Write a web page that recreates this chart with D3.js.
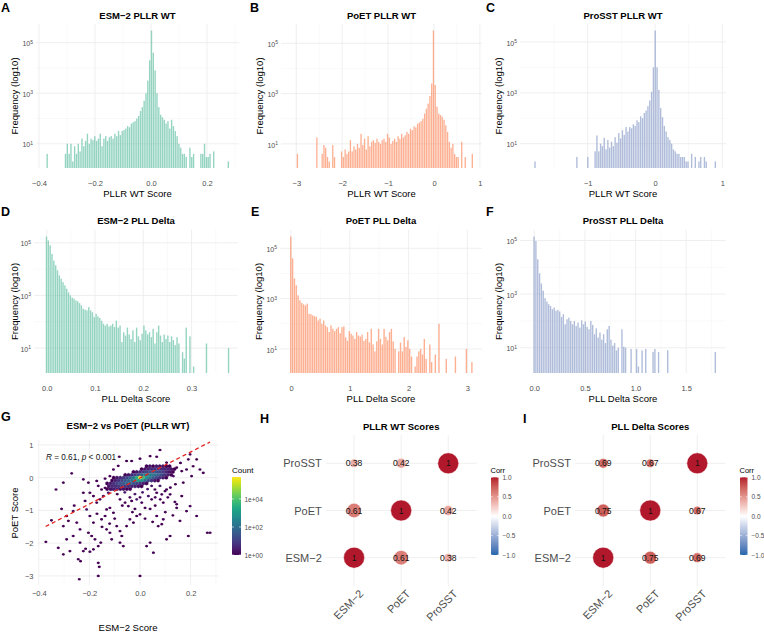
<!DOCTYPE html>
<html>
<head>
<meta charset="utf-8">
<script src="https://cdn.jsdelivr.net/npm/d3@7"></script>
<style>
  body { margin: 0; background: #fff; }
  svg { font-family: "Liberation Sans", Arial, sans-serif; }
</style>
</head>
<body>
<div id="fig"></div>
<script>
// ---------- histogram data (100 bins each, counts) ----------
const ESM_PLLR_RANGE = [-0.370, 0.277];
const ESM_PLLR_COUNTS = [4,0,0,0,0,0,0,0,0,0,
  4,10,4,10,2,8,4,10,5,16, 8,13,25,10,16,14,20,13,16,25,
  8,16,20,13,18,20,16,25,20,32, 22,32,35,40,50,45,63,71,79,100,
  126,200,282,501,1000,3160,20000,302000,39800,7940, 1000,282,141,112,89,63,79,40,89,50,
  32,20,10,7,4,4,3,0,7,3, 4,0,0,0,4,4,10,3,3,4, 0,5,0,0,0,0,0,0,0,2];

const POET_PLLR_RANGE = [-2.97, 0.84];
const POET_PLLR_COUNTS = [4,0,0,0,0,0,0,0,0,0,
  0,18,0,0,4,9,7,3,2,0, 9,3,0,0,0,5,3,6,4,5,
  14,5,8,6,10,7,25,9,16,6, 20,8,12,14,11,16,12,10,14,16,
  12,25,18,10,13,16,12,20,16,25, 18,22,30,25,40,35,50,45,63,70,
  80,100,160,250,400,800,2500,320000,2200,300, 160,140,120,90,55,30,12,7,10,4,
  3,3,0,12,0,3,0,0,0,4];

const PROSST_PLLR_RANGE = [-1.78, 0.90];
const PROSST_PLLR_COUNTS = [2,0,0,0,0,0,0,0,0,0,
  0,0,0,0,0,0,0,0,0,0, 0,0,0,3,0,0,0,0,0,3,
  0,0,0,5,21,5,10,8,17,6, 14,7,12,8,18,11,26,16,34,22,
  45,30,45,40,58,50,83,70,120,100, 160,200,300,500,1100,10000,280000,10000,1300,250,
  110,50,30,18,14,10,6,5,4,4, 3,3,3,2,2,0,4,0,3,0,
  2,3,0,3,2,0,0,0,0,2];

const ESM_DELTA_RANGE = [0, 0.377];
const ESM_DELTA_COUNTS = [174000,123000,80000,38000,21000,14000,9000,5800,4300,3200,
  2400,1800,1300,1000,820,750,640,600,510,420, 310,290,270,360,270,230,150,200,160,140,
  110,84,72,84,66,72,84,63,110,60, 72,17,40,30,60,33,22,47,17,60,
  28,20,35,72,47,33,40,26,54,15, 40,72,30,17,33,22,30,17,28,20,
  13,26,15,0,7,4,60,0,28,0, 2,0,0,0,0,0,0,15,0,0,
  0,0,0,0,0,0,0,0,0,10];

const POET_DELTA_RANGE = [0, 3.08];
const POET_DELTA_COUNTS = [295000,40000,6300,3400,1350,860,670,590,540,630,
  250,240,215,200,190,135,160,100,135,86, 73,47,86,63,51,63,73,42,73,78,
  29,21,51,40,34,25,47,34,31,37, 21,25,47,18,63,15,8,20,63,25,
  15,63,30,22,47,63,20,10,0,8, 18,8,30,12,22,10,5,0,2,5,
  8,10,6,25,4,0,15,3,0,6, 0,100,0,0,0,4,0,0,0,0,
  5,0,0,0,0,0,10,0,0,3];

const PROSST_DELTA_RANGE = [0, 1.79];
const PROSST_DELTA_COUNTS = [141000,95000,20000,6000,2500,1340,710,530,420,360,
  275,316,240,260,225,141,178,75,115,133, 100,75,100,65,87,56,105,75,95,60,
  49,100,71,32,53,24,37,20,32,15, 49,65,20,12,15,8,10,0,49,11,
  10,0,0,9,0,0,9,2,0,8, 0,9,0,0,0,7,9,0,7,0,
  0,0,0,8,0,0,0,0,0,0, 0,0,0,0,0,0,0,0,0,0,
  0,0,0,0,0,0,0,0,0,7];

const PLLR_ESM_TICKS = [-0.4, -0.2, 0, 0.2];
const PLLR_POET_TICKS = [-3, -2, -1, 0, 1];
const PLLR_PROSST_TICKS = [-1, 0, 1];
const DELTA_ESM_TICKS = [0, 0.1, 0.2, 0.3];
const DELTA_POET_TICKS = [0, 1, 2, 3];
const DELTA_PROSST_TICKS = [0, 0.5, 1, 1.5];
const LOG_TICKS = [10, 1000, 100000];

// ---------- hexbin scatter (ESM-2 vs PoET) ----------
// sparse cells: [esm, poet, count]
const SPARSE_HEX = [
  [-0.082,0.64,1],[0.079,0.845,1],[-0.053,0.51,1],[-0.033,0.51,1],[0.0,0.58,1],[0.066,0.64,1],
  [-0.27,0.13,1],[-0.303,-0.15,1],[-0.332,-0.36,1],[-0.224,-0.05,1],[-0.204,-0.15,1],[-0.171,-0.10,1],
  [-0.138,-0.03,1],[0.198,0.71,1],[0.224,0.56,1],[0.237,0.25,1],[0.191,0.56,1],[0.204,0.05,1],
  [0.145,0.31,1],[0.165,0.20,1],[0.132,0.05,2],[0.171,-0.15,1],[0.277,-1.68,1],[0.266,-1.68,1],
  [-0.372,-1.96,1],[-0.323,-2.14,1],[-0.303,-2.34,1],[-0.290,-1.17,1],[-0.283,-1.32,1],[-0.264,-1.02,1],
  [-0.250,-1.37,1],[-0.237,-1.58,1],[-0.224,-0.46,1],[-0.217,-0.71,1],[-0.211,-0.97,2],[-0.198,-1.17,1],
  [-0.184,-1.37,1],[-0.237,-1.98,1],[-0.224,-2.24,1],[-0.215,-2.17,1],[-0.277,-2.24,1],[-0.244,-2.49,1],
  [-0.235,-2.55,1],[-0.191,-1.78,1],[-0.178,-1.88,1],[-0.165,-2.09,1],[-0.155,-1.98,1],[-0.184,-2.19,1],
  [-0.198,-2.26,1],[-0.165,-2.60,1],[-0.161,-2.72,1],[-0.165,-3.0,1],[-0.240,-3.10,1],[0.0,-3.0,1],
  [0.053,-2.29,1],[0.026,-2.09,1],[0.040,-1.98,1],[0.105,-1.88,1],[0.119,-1.78,1],[0.191,-1.78,1],
  [-0.092,-1.48,1],[-0.079,-1.63,1],[-0.072,-1.78,1],[-0.053,-1.48,1],[-0.040,-1.27,1],[-0.026,-1.37,1],
  [-0.013,-1.17,1],[0.0,-1.12,1],[0.066,-1.17,1],[0.092,-1.27,1],[0.072,-1.48,1],[0.086,-1.42,1],
  [0.145,-0.92,1],[0.184,-1.02,1],[0.198,-0.87,1],[0.145,-0.81,1],[0.138,-0.74,1],[-0.105,-1.07,1],
  [-0.119,-0.92,1],[-0.132,-0.97,1],[-0.152,-1.27,1],[-0.138,-1.17,1],[-0.171,-0.76,1],[-0.158,-0.66,1],
  [-0.145,-0.56,2],[-0.125,-0.46,2],[-0.112,-0.36,2],[-0.099,-0.25,2],[-0.079,-0.66,1],[-0.059,-0.76,1],
  [-0.046,-0.87,1],[-0.033,-0.71,1],[-0.013,-0.66,2],[0.007,-0.76,1],[0.020,-0.92,1],[0.033,-0.56,2],
  [0.046,-0.66,1],[0.066,-0.46,1],[0.086,-0.51,1],[0.099,-0.41,1],[0.092,-0.76,1],[-0.132,-1.58,1],
  [-0.119,-1.68,1],[-0.112,-1.88,1],[-0.079,-1.98,1],[-0.066,-2.09,1],[-0.152,-0.36,1],[-0.138,-0.31,1],
  [-0.165,-0.25,1],[-0.184,-0.56,1],[-0.198,-0.46,1],[0.046,-0.25,2],[0.059,-0.36,1],[0.079,-0.25,2],
  [0.105,-0.36,1],[0.119,-0.51,1],[0.224,-1.17,1],[0.184,0.25,1],[0.105,0.46,1],[0.040,0.66,1],
  [-0.086,0.36,1],[-0.290,-1.88,1],[-0.264,-1.78,1],[-0.204,-1.68,1],[-0.303,-1.48,1],[-0.105,0.25,1],
  [-0.119,0.05,1],[0.165,-0.56,1],[0.158,-1.32,1],[0.250,0.15,1],
  [-0.06,-0.45,2],[-0.02,-0.5,2],[0.01,-0.45,2],[0.03,-0.35,2],[-0.04,-0.6,1],[0.0,-0.6,1],
  [0.06,-0.6,1],[0.08,-0.66,1],[-0.09,-0.5,1],[-0.07,-0.85,1],[-0.02,-0.95,1],[0.04,-0.95,1],
  [0.06,-0.85,1],[0.11,-0.6,1],[0.12,-0.3,1],[0.14,-0.2,1],[-0.03,-1.05,1],[0.02,-1.25,1],
  [0.05,-1.35,1],[-0.1,-1.25,1],[-0.12,-1.4,1],[-0.15,-1.5,1],[-0.17,-1.1,1],[-0.26,-0.85,1],
  [-0.31,-0.95,1],[-0.35,-1.3,1],[0.1,-1.05,1],[0.13,-1.15,1],[0.16,0.45,1],[0.21,0.35,1]
];
// dense core: rows of PoET, columns of ESM-2
const CORE_ESM = [-0.13,-0.117,-0.104,-0.091,-0.078,-0.065,-0.052,-0.039,-0.026,-0.013,0,
  0.013,0.026,0.039,0.052,0.065,0.078,0.091,0.104,0.117,0.13];
const CORE_POET = [0.35, 0.2625, 0.175, 0.0875, 0, -0.0875, -0.175, -0.2625, -0.35];
const CORE_COUNTS = [
  [0,0,0,0,0,0,0,0,0,0,0,0,1,2,1,3,2,2,1,1,0],
  [0,0,0,0,0,0,0,0,0,0,1,2,3,5,6,8,5,4,3,2,1],
  [0,0,0,0,0,0,0,0,1,2,4,8,15,25,30,25,15,8,4,2,1],
  [0,0,0,0,0,1,2,4,8,20,60,150,300,200,100,50,20,8,3,1,0],
  [0,0,1,2,4,8,15,40,150,3000,370000,8000,600,150,40,15,6,3,1,0,0],
  [0,1,3,6,12,25,60,150,400,1500,800,100,20,6,2,1,0,0,0,0,0],
  [1,3,6,12,25,40,60,50,30,15,6,3,1,0,0,0,0,0,0,0,0],
  [2,4,6,8,10,8,6,4,3,2,1,0,0,0,0,0,0,0,0,0,0],
  [1,2,3,3,2,2,1,1,0,0,0,0,0,0,0,0,0,0,0,0,0]
];
const LM_ESM = [-0.373, 0.277];
const LM_POET = [-1.49, 1.09];
const SCATTER_X_TICKS = [-0.4, -0.2, 0, 0.2];
const SCATTER_Y_TICKS = [-3, -2, -1, 0, 1];
const COUNT_TICKS = [1, 100, 10000];

// ---------- correlation matrices ----------
const MODELS = ["ESM−2", "PoET", "ProSST"];
const PLLR_CORR = [[1, 0.61, 0.38], [0.61, 1, 0.42], [0.38, 0.42, 1]];
const DELTA_CORR = [[1, 0.75, 0.69], [0.75, 1, 0.67], [0.69, 0.67, 1]];
const CORR_TICKS = [-1, -0.5, 0, 0.5, 1];

// ---------- frame ----------
const WIDTH = 764, HEIGHT = 634;
const GRID = "#EBEBEB", GRID_MINOR = "#F3F3F3", TICK_TEXT = "#4D4D4D";

const svg = d3.select("#fig").append("svg")
  .attr("width", WIDTH).attr("height", HEIGHT);
svg.append("rect").attr("width", WIDTH).attr("height", HEIGHT).attr("fill", "#fff");

function minorOf(ticks, dom) {
  const step = ticks[1] - ticks[0];
  const out = [];
  for (let t = ticks[0] - step / 2; t <= ticks[ticks.length - 1] + step / 2 + 1e-9; t += step) {
    if (t >= dom[0] && t <= dom[1]) out.push(t);
  }
  return out;
}

function vLines(g, x, vals, y0, y1, color, w) {
  g.append("g").selectAll("line").data(vals).join("line")
    .attr("x1", d => x(d)).attr("x2", d => x(d)).attr("y1", y0).attr("y2", y1)
    .attr("stroke", color).attr("stroke-width", w);
}
function hLines(g, y, vals, x0, x1, color, w) {
  g.append("g").selectAll("line").data(vals).join("line")
    .attr("y1", d => y(d)).attr("y2", d => y(d)).attr("x1", x0).attr("x2", x1)
    .attr("stroke", color).attr("stroke-width", w);
}

// tick labels drawn with d3 axes, no tick marks, no domain line
function labelAxis(g, axis, tx, ty, size) {
  const a = g.append("g").attr("transform", `translate(${tx},${ty})`).call(axis);
  a.select(".domain").remove();
  a.attr("font-size", null).attr("font-family", null);
  a.selectAll("text").attr("fill", TICK_TEXT).style("font-size", size + "px");
  return a;
}

function text(g, x, y, str, opts = {}) {
  return g.append("text").attr("x", x).attr("y", y)
    .attr("text-anchor", opts.anchor || "middle")
    .style("font-size", (opts.size || 9.5) + "px")
    .style("font-weight", opts.bold ? "bold" : null)
    .attr("fill", opts.fill || "#000")
    .text(str);
}

function yTitle(g, x, yc, str) {
  g.append("text").attr("transform", `translate(${x},${yc}) rotate(-90)`)
    .attr("text-anchor", "middle").attr("dy", "0.35em")
    .style("font-size", "9.5px").text(str);
}

// ---------- histograms ----------
const ROWS = [
  {py: [24, 168], title: 18.5, tick: 183, xlab: 196.5},
  {py: [230, 373], title: 223.5, tick: 388.3, xlab: 401.8}
];

const HISTS = [
  {letter: "A", lx: 1, ly: 11.5, title: "ESM−2 PLLR WT", xlab: "PLLR WT Score", counts: ESM_PLLR_COUNTS,
   range: ESM_PLLR_RANGE, ticks: PLLR_ESM_TICKS, fmt: ".1f", color: "#66C2A5", px: [36, 239], dom: [-0.4107, 0.3143], row: 0, ytx: 15},
  {letter: "B", lx: 250, ly: 11.5, title: "PoET PLLR WT", xlab: "PLLR WT Score", counts: POET_PLLR_COUNTS,
   range: POET_PLLR_RANGE, ticks: PLLR_POET_TICKS, fmt: "d", color: "#FC8D62", px: [281, 482], dom: [-3.333, 1.046], row: 0, ytx: 260},
  {letter: "C", lx: 486, ly: 11.5, title: "ProSST PLLR WT", xlab: "PLLR WT Score", counts: PROSST_PLLR_COUNTS,
   range: PROSST_PLLR_RANGE, ticks: PLLR_PROSST_TICKS, fmt: "d", color: "#8DA0CB", px: [520, 726], dom: [-2.006, 1.055], row: 0, ytx: 499},
  {letter: "D", lx: 1, ly: 215.5, title: "ESM−2 PLL Delta", xlab: "PLL Delta Score", counts: ESM_DELTA_COUNTS,
   range: ESM_DELTA_RANGE, ticks: DELTA_ESM_TICKS, fmt: ".1f", color: "#66C2A5", px: [34, 238], dom: [-0.0263, 0.3961], row: 1, ytx: 15},
  {letter: "E", lx: 251, ly: 215.5, title: "PoET PLL Delta", xlab: "PLL Delta Score", counts: POET_DELTA_COUNTS,
   range: POET_DELTA_RANGE, ticks: DELTA_POET_TICKS, fmt: "d", color: "#FC8D62", px: [280, 482], dom: [-0.187, 3.248], row: 1, ytx: 259},
  {letter: "F", lx: 486, ly: 215.5, title: "ProSST PLL Delta", xlab: "PLL Delta Score", counts: PROSST_DELTA_COUNTS,
   range: PROSST_DELTA_RANGE, ticks: DELTA_PROSST_TICKS, fmt: ".1f", color: "#8DA0CB", px: [520, 726], dom: [-0.1412, 1.8934], row: 1, ytx: 499}
];

HISTS.forEach(p => {
  const row = ROWS[p.row];
  const g = svg.append("g");
  const x = d3.scaleLinear().domain(p.dom).range(p.px);
  const nz = p.counts.filter(c => c > 0);
  const lmin = Math.log10(d3.min(nz)), lmax = Math.log10(d3.max(nz));
  const pad = 0.05 * (lmax - lmin);
  const y = d3.scaleLog().domain([10 ** (lmin - pad), 10 ** (lmax + pad)]).range([row.py[1], row.py[0]]);
  const yDom = y.domain();

  // grid
  vLines(g, x, minorOf(p.ticks, p.dom), row.py[0], row.py[1], GRID_MINOR, 0.5);
  hLines(g, y, [1, 100, 10000, 1e6].filter(v => v >= yDom[0] && v <= yDom[1]), p.px[0], p.px[1], GRID_MINOR, 0.5);
  vLines(g, x, p.ticks, row.py[0], row.py[1], GRID, 0.8);
  hLines(g, y, LOG_TICKS, p.px[0], p.px[1], GRID, 0.8);

  // bars
  const w = (p.range[1] - p.range[0]) / (p.counts.length - 1);
  const bins = p.counts.map((c, i) => ({c, mid: p.range[0] + i * w})).filter(d => d.c > 0);
  g.append("g").selectAll("rect").data(bins).join("rect")
    .attr("x", d => x(d.mid - w / 2))
    .attr("width", d => Math.max(0.4, x(d.mid + w / 2) - x(d.mid - w / 2) - 0.45))
    .attr("y", d => y(d.c))
    .attr("height", d => row.py[1] - y(d.c))
    .attr("fill", p.color).attr("fill-opacity", 0.7);

  // axes labels
  const xa = labelAxis(g, d3.axisBottom(x).tickValues(p.ticks).tickSize(0).tickPadding(0).tickFormat(d3.format(p.fmt)), 0, row.tick, 7.5);
  xa.selectAll("text").attr("dy", "0.35em");
  const ya = labelAxis(g, d3.axisLeft(y).tickValues(LOG_TICKS).tickSize(0).tickPadding(0).tickFormat(() => "10"), p.px[0] - 3, 0, 7);
  ya.selectAll("text").attr("dy", "0.45em")
    .append("tspan").attr("dy", "-0.55em").style("font-size", "5px")
    .text(d => Math.round(Math.log10(d)));

  text(g, (p.px[0] + p.px[1]) / 2, row.title, p.title, {bold: true});
  text(g, (p.px[0] + p.px[1]) / 2, row.xlab, p.xlab);
  yTitle(g, p.ytx, (row.py[0] + row.py[1]) / 2, "Frequency (log10)");
  text(g, p.lx, p.ly, p.letter, {anchor: "start", size: 12.5, bold: true});
});

// ---------- G: hexbin scatter ----------
(function () {
  const g = svg.append("g");
  const PX = [37.5, 218.4], PY = [440, 585];
  const x = d3.scaleLinear().domain([-0.4051, 0.3099]).range(PX);
  const y = d3.scaleLinear().domain([-3.276, 1.151]).range([PY[1], PY[0]]);

  vLines(g, x, minorOf(SCATTER_X_TICKS, x.domain()), PY[0], PY[1], GRID_MINOR, 0.5);
  hLines(g, y, minorOf(SCATTER_Y_TICKS, y.domain()), PX[0], PX[1], GRID_MINOR, 0.5);
  vLines(g, x, SCATTER_X_TICKS, PY[0], PY[1], GRID, 0.8);
  hLines(g, y, SCATTER_Y_TICKS, PX[0], PX[1], GRID, 0.8);

  const core = [];
  CORE_COUNTS.forEach((row, k) => row.forEach((n, j) => {
    if (n > 0) core.push([CORE_ESM[j] + (k % 2) * 0.0065, CORE_POET[k], n]);
  }));
  const maxCount = d3.max(core.concat(SPARSE_HEX), d => d[2]);
  const fill = d3.scaleSequentialLog(d3.interpolateViridis).domain([1, maxCount]);

  const HW = 1.45, HR = 1.35;
  const hex = "M" + [[0, -HR], [HW, -HR / 2], [HW, HR / 2], [0, HR], [-HW, HR / 2], [-HW, -HR / 2]]
    .map(p => p.join(",")).join("L") + "Z";
  const coreHex = "M" + [[0, -1.9], [1.65, -0.95], [1.65, 0.95], [0, 1.9], [-1.65, 0.95], [-1.65, -0.95]]
    .map(p => p.join(",")).join("L") + "Z";

  g.append("g").selectAll("path").data(SPARSE_HEX).join("path")
    .attr("d", hex)
    .attr("transform", d => `translate(${x(d[0])},${y(d[1])})`)
    .attr("fill", d => fill(d[2]));
  g.append("g").selectAll("path").data(core).join("path")
    .attr("d", coreHex)
    .attr("transform", d => `translate(${x(d[0])},${y(d[1])})`)
    .attr("fill", d => fill(d[2]))
    .attr("stroke", d => fill(d[2])).attr("stroke-width", 0.2);

  const line = d3.line().x(d => x(d[0])).y(d => y(d[1]));
  g.append("path").attr("d", line(LM_ESM.map((v, i) => [v, LM_POET[i]])))
    .attr("fill", "none").attr("stroke", "#E3211C").attr("stroke-width", 1.3)
    .attr("stroke-dasharray", "4,3");

  const r = g.append("text").attr("x", 46).attr("y", 459.5).style("font-size", "8.2px").attr("fill", "#111");
  r.append("tspan").style("font-style", "italic").text("R");
  r.append("tspan").text(" = 0.61, ");
  r.append("tspan").style("font-style", "italic").text("p");
  r.append("tspan").text(" < 0.001");

  const xa = labelAxis(g, d3.axisBottom(x).tickValues(SCATTER_X_TICKS).tickSize(0).tickPadding(0).tickFormat(d3.format(".1f")), 0, 593, 7.5);
  xa.selectAll("text").attr("dy", "0.35em");
  labelAxis(g, d3.axisLeft(y).tickValues(SCATTER_Y_TICKS).tickSize(0).tickPadding(0).tickFormat(d3.format("d")), 33.5, 0, 7.5);

  text(g, (PX[0] + PX[1]) / 2, 428.5, "ESM−2 vs PoET (PLLR WT)", {bold: true});
  text(g, 128, 631, "ESM−2 Score");
  yTitle(g, 15, 513, "PoET Score");
  text(g, 1, 421, "G", {anchor: "start", size: 12.5, bold: true});

  // colour bar
  const LX = 232, LW = 9, LY = [477, 555];
  const ly = d3.scaleLog().domain([1, maxCount]).range([LY[1], LY[0]]);
  const grad = svg.append("defs").append("linearGradient").attr("id", "countGrad")
    .attr("x1", 0).attr("x2", 0).attr("y1", 1).attr("y2", 0);
  d3.range(0, 1.0001, 0.05).forEach(t => grad.append("stop").attr("offset", t)
    .attr("stop-color", d3.interpolateViridis(t)));
  g.append("rect").attr("x", LX).attr("y", LY[0]).attr("width", LW).attr("height", LY[1] - LY[0])
    .attr("fill", "url(#countGrad)");
  g.append("g").selectAll("line").data(COUNT_TICKS).join("line")
    .attr("x1", LX).attr("x2", LX + LW).attr("y1", d => ly(d)).attr("y2", d => ly(d))
    .attr("stroke", "#fff").attr("stroke-width", 0.6).attr("stroke-dasharray", "2," + (LW - 4));
  labelAxis(g, d3.axisRight(ly).tickValues(COUNT_TICKS).tickSize(0).tickPadding(0)
    .tickFormat(d => "1e+" + String(Math.round(Math.log10(d))).padStart(2, "0")), LX + LW + 3.5, 0, 6.5);
  text(g, LX, 473, "Count", {anchor: "start", size: 8});
})();

// ---------- H / I: correlation plots ----------
const corrColor = d3.scaleLinear().domain([-1, 0, 1]).range(["#2166AC", "#FFFFFF", "#B2182B"])
  .interpolate(d3.interpolateLab);

function corrPanel(o) {
  const g = svg.append("g");
  const PY = [435, 586];
  const x = d3.scalePoint().domain(MODELS).range(o.px).padding(0.6);
  const y = d3.scalePoint().domain(MODELS).range([PY[1], PY[0]]).padding(0.6);

  hLines(g, y, MODELS, o.px[0], o.px[1], GRID, 0.8);
  vLines(g, x, MODELS, PY[0], PY[1], GRID, 0.8);

  const cells = [];
  o.m.forEach((row, i) => row.forEach((v, j) => cells.push({r: MODELS[i], c: MODELS[j], v})));
  const rad = d3.scaleRadial().domain(d3.extent(cells, d => d.v)).range([4.3, 10.5]);

  g.append("g").selectAll("circle").data(cells).join("circle")
    .attr("cx", d => x(d.c)).attr("cy", d => y(d.r)).attr("r", d => rad(d.v))
    .attr("fill", d => corrColor(d.v)).attr("stroke", "#fff").attr("stroke-width", 0.5);
  g.append("g").selectAll("text").data(cells).join("text")
    .attr("x", d => x(d.c)).attr("y", d => y(d.r)).attr("dy", "0.36em")
    .attr("text-anchor", "middle").style("font-size", "8.5px").attr("fill", "#111")
    .text(d => d.v === 1 ? "1" : d.v.toFixed(2));

  labelAxis(g, d3.axisLeft(y).tickSize(0).tickPadding(0), o.px[0] - 4, 0, 11);
  const xa = labelAxis(g, d3.axisBottom(x).tickSize(0).tickPadding(0), 0, 589, 11);
  xa.selectAll("text").attr("y", 0).attr("dy", "0.7em").attr("text-anchor", "end")
    .attr("transform", "translate(4,0) rotate(-45)");

  text(g, (o.px[0] + o.px[1]) / 2, 429.5, o.title, {bold: true});
  text(g, o.lx, o.ly, o.letter, {anchor: "start", size: 12.5, bold: true});

  // legend
  const LY = [477.3, 555], LW = 7.5;
  const ly = d3.scaleLinear().domain([-1, 1]).range([LY[1], LY[0]]);
  const grad = svg.append("defs").append("linearGradient").attr("id", o.id)
    .attr("x1", 0).attr("x2", 0).attr("y1", 1).attr("y2", 0);
  d3.range(0, 1.0001, 0.05).forEach(t => grad.append("stop").attr("offset", t)
    .attr("stop-color", corrColor(-1 + 2 * t)));
  g.append("rect").attr("x", o.legX).attr("y", LY[0]).attr("width", LW).attr("height", LY[1] - LY[0])
    .attr("fill", `url(#${o.id})`);
  g.append("g").selectAll("line").data(CORR_TICKS).join("line")
    .attr("x1", o.legX).attr("x2", o.legX + LW).attr("y1", d => ly(d)).attr("y2", d => ly(d))
    .attr("stroke", "#fff").attr("stroke-width", 0.6).attr("stroke-dasharray", "1.6," + (LW - 3.2));
  labelAxis(g, d3.axisRight(ly).tickValues(CORR_TICKS).tickSize(0).tickPadding(0).tickFormat(d3.format(".1f")),
    o.legX + LW + 4, 0, 6.5);
  text(g, o.legX - 0.5, 473, "Corr", {anchor: "start", size: 7.5});
}

corrPanel({m: PLLR_CORR, px: [325.8, 476.5], title: "PLLR WT Scores", letter: "H", lx: 260, ly: 423, legX: 491, id: "corrGradH"});
corrPanel({m: DELTA_CORR, px: [575, 725.5], title: "PLL Delta Scores", letter: "I", lx: 523, ly: 423, legX: 740, id: "corrGradI"});
</script>
</body>
</html>
